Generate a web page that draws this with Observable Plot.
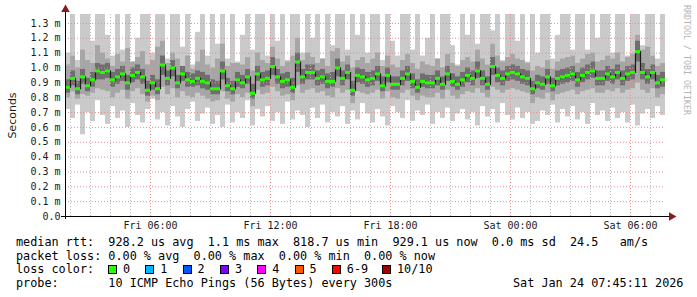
<!DOCTYPE html>
<html><head><meta charset="utf-8">
<script src="https://cdn.jsdelivr.net/npm/d3@7"></script>
<script src="https://cdn.jsdelivr.net/npm/@observablehq/plot@0.6"></script>
<style>
html,body{margin:0;padding:0;background:#fff;}
#wrap{position:relative;width:697px;height:297px;overflow:hidden;font-family:"DejaVu Sans Mono",monospace;background:#fff;}
#chart{position:absolute;left:0;top:0;}
.lg{position:absolute;font-size:11.8px;line-height:14px;white-space:pre;color:#000;}
.sq{position:absolute;width:7px;height:7px;border:1px solid #000;}
#credit{position:absolute;left:682px;top:5px;writing-mode:vertical-rl;font-size:8.3px;color:#b4b4b4;white-space:pre;font-family:"DejaVu Sans Mono",monospace;}
</style></head><body>
<div id="wrap"><div id="chart"></div><div id="credit">RRDTOOL / TOBI OETIKER</div><div id="legend"></div></div>
<script>
// ---- data (15-minute buckets, starting Fri 01:45) ----
const startTime = "2026-01-23T01:45:00Z";
const stepMinutes = 15;

const median = [
0.87,0.93,0.86,0.94,0.88,0.92,0.98,0.97,0.98,0.92,
0.94,0.96,0.90,0.95,0.97,0.94,0.85,0.90,0.86,1.02,
0.93,1.00,0.90,0.96,0.92,0.91,0.93,0.91,0.90,0.86,
0.86,0.98,0.88,0.86,0.92,0.90,0.94,0.83,0.96,0.92,
0.93,1.01,0.94,0.91,0.92,0.87,1.04,0.94,0.97,0.97,
0.93,0.94,0.91,0.91,1.00,0.93,0.97,0.85,0.95,0.94,
0.92,0.93,0.96,0.88,0.95,0.89,0.89,0.93,0.96,0.91,
0.87,0.91,0.90,0.90,0.93,0.89,0.96,0.91,0.89,0.92,
0.95,0.93,0.98,0.93,0.89,1.01,0.95,0.93,0.96,0.97,
0.96,0.94,0.93,0.86,0.90,0.89,0.94,0.88,0.93,0.94,
0.95,0.96,0.92,0.95,0.97,0.98,0.93,0.93,0.96,0.94,
0.97,0.93,0.96,0.97,1.11,0.97,0.94,0.97,0.90,0.92];

const smokeMax = [
1.10,1.36,1.05,1.36,1.36,1.18,1.36,1.36,1.22,1.08,
1.36,1.12,1.36,1.04,1.20,1.36,1.36,1.10,1.36,1.36,
1.06,1.36,1.36,1.14,1.36,1.02,1.24,1.36,1.08,1.36,
1.16,1.36,1.06,1.36,1.04,1.22,1.36,1.12,1.36,1.36,
1.08,1.36,1.18,1.36,1.05,1.36,1.36,1.10,1.36,1.20,
1.36,1.06,1.36,1.15,1.36,1.36,1.12,1.36,1.22,1.36,
1.10,1.36,1.36,1.05,1.36,1.18,1.08,1.36,1.36,1.12,
1.36,1.08,1.20,1.36,1.06,1.36,1.36,1.15,1.02,1.36,
1.22,1.36,1.16,1.36,1.36,1.25,1.36,1.05,1.36,1.36,
1.18,1.36,1.04,1.36,1.10,1.36,1.36,1.06,1.22,1.36,
1.36,1.12,1.36,1.36,1.12,1.36,1.20,1.36,1.36,1.10,
1.36,1.36,1.08,1.36,1.36,1.15,1.36,1.36,1.06,1.36];

const smokeMin = [
0.72,0.66,0.75,0.55,0.70,0.64,0.78,0.68,0.62,0.74,
0.66,0.71,0.60,0.76,0.68,0.63,0.72,0.79,0.65,0.70,
0.61,0.74,0.67,0.60,0.72,0.77,0.64,0.69,0.73,0.62,
0.68,0.60,0.75,0.63,0.70,0.66,0.78,0.61,0.72,0.67,
0.74,0.64,0.70,0.62,0.77,0.65,0.71,0.68,0.60,0.73,
0.66,0.75,0.63,0.70,0.67,0.74,0.62,0.71,0.65,0.76,
0.69,0.63,0.72,0.67,0.61,0.74,0.70,0.66,0.78,0.64,
0.71,0.68,0.75,0.62,0.70,0.66,0.73,0.64,0.69,0.72,
0.65,0.70,0.61,0.74,0.67,0.72,0.63,0.76,0.68,0.65,
0.73,0.66,0.70,0.62,0.64,0.71,0.68,0.75,0.63,0.72,
0.67,0.74,0.65,0.70,0.62,0.76,0.68,0.71,0.64,0.73,
0.66,0.70,0.63,0.75,0.61,0.69,0.72,0.66,0.74,0.68];

const smokeMidHi = [
1.02,1.08,1.00,1.12,1.05,1.03,1.15,1.10,1.06,1.01,
1.09,1.04,1.13,1.04,1.07,1.11,1.02,1.05,1.14,1.18,
1.03,1.10,1.06,1.01,1.08,0.99,1.04,1.12,1.02,1.00,
1.06,1.16,1.01,1.03,1.03,1.02,1.07,0.98,1.10,1.05,
1.03,1.14,1.06,1.01,1.04,1.08,1.20,1.05,1.10,1.07,
1.03,1.06,1.01,1.11,1.13,1.04,1.08,1.00,1.05,1.07,
1.03,1.06,1.10,1.01,1.08,1.02,1.00,1.05,1.09,1.03,
0.99,1.04,1.02,1.01,1.06,1.00,1.09,1.03,1.01,1.05,
1.07,1.04,1.12,1.06,1.02,1.16,1.08,1.04,1.07,1.09,
1.06,1.05,1.03,0.98,1.01,1.00,1.05,0.99,1.04,1.06,
1.07,1.08,1.03,1.06,1.09,1.10,1.04,1.05,1.08,1.06,
1.10,1.04,1.07,1.09,1.22,1.12,1.14,1.08,1.01,1.03];

const smokeMidLo = [
0.80,0.84,0.79,0.82,0.81,0.83,0.86,0.85,0.84,0.80,
0.83,0.85,0.79,0.84,0.86,0.82,0.77,0.81,0.78,0.87,
0.82,0.86,0.80,0.84,0.81,0.80,0.83,0.81,0.79,0.77,
0.78,0.84,0.79,0.77,0.82,0.80,0.83,0.74,0.85,0.82,
0.83,0.87,0.84,0.81,0.82,0.78,0.88,0.83,0.85,0.86,
0.83,0.84,0.81,0.80,0.86,0.83,0.85,0.76,0.84,0.83,
0.82,0.83,0.85,0.79,0.84,0.80,0.79,0.83,0.85,0.81,
0.78,0.81,0.80,0.80,0.83,0.79,0.85,0.81,0.79,0.82,
0.84,0.83,0.86,0.83,0.80,0.87,0.85,0.83,0.85,0.86,
0.85,0.84,0.83,0.76,0.80,0.79,0.83,0.78,0.82,0.83,
0.84,0.85,0.82,0.84,0.85,0.86,0.83,0.83,0.85,0.84,
0.86,0.83,0.85,0.86,0.90,0.85,0.83,0.86,0.80,0.82];

const smokeInHi = [
0.92,0.98,0.91,0.99,0.93,0.97,1.03,1.02,1.03,0.97,
0.99,1.01,0.95,1.00,1.02,0.99,0.91,0.95,0.92,1.08,
0.98,1.05,0.95,1.01,0.97,0.96,0.98,0.97,0.95,0.92,
0.91,1.04,0.93,0.91,0.97,0.95,0.99,0.89,1.01,0.97,
0.98,1.07,0.99,0.96,0.97,0.93,1.10,0.99,1.02,1.02,
0.98,0.99,0.96,0.97,1.06,0.98,1.02,0.91,1.00,0.99,
0.97,0.98,1.01,0.94,1.00,0.94,0.94,0.98,1.01,0.96,
0.92,0.96,0.95,0.95,0.98,0.94,1.01,0.96,0.94,0.97,
1.00,0.98,1.04,0.98,0.94,1.07,1.00,0.98,1.01,1.02,
1.01,0.99,0.98,0.91,0.95,0.94,0.99,0.93,0.98,0.99,
1.00,1.01,0.97,1.00,1.02,1.04,0.98,0.98,1.01,0.99,
1.02,0.98,1.01,1.02,1.18,1.03,0.99,1.02,0.95,0.97];

const smokeInLo = [
0.83,0.88,0.82,0.89,0.84,0.87,0.92,0.92,0.93,0.87,
0.89,0.91,0.85,0.90,0.92,0.89,0.81,0.85,0.82,0.95,
0.88,0.94,0.86,0.91,0.87,0.87,0.88,0.86,0.85,0.82,
0.82,0.92,0.84,0.82,0.87,0.86,0.89,0.79,0.91,0.87,
0.88,0.95,0.89,0.86,0.87,0.83,0.97,0.89,0.92,0.92,
0.88,0.89,0.86,0.87,0.94,0.88,0.92,0.81,0.90,0.89,
0.87,0.88,0.91,0.84,0.90,0.85,0.85,0.88,0.91,0.86,
0.83,0.87,0.86,0.86,0.88,0.85,0.91,0.87,0.85,0.87,
0.90,0.88,0.93,0.88,0.85,0.95,0.90,0.88,0.91,0.92,
0.91,0.89,0.88,0.82,0.86,0.85,0.89,0.84,0.88,0.89,
0.90,0.91,0.87,0.90,0.92,0.93,0.88,0.88,0.91,0.89,
0.92,0.88,0.91,0.92,1.04,0.92,0.89,0.92,0.86,0.87];

const yTicks = [0,0.1,0.2,0.3,0.4,0.5,0.6,0.7,0.8,0.9,1.0,1.1,1.2,1.3];
const yTickLabels = ["0.0","0.1 m","0.2 m","0.3 m","0.4 m","0.5 m","0.6 m","0.7 m","0.8 m","0.9 m","1.0 m","1.1 m","1.2 m","1.3 m"];
const xTicks = ["2026-01-23T06:00:00Z","2026-01-23T12:00:00Z","2026-01-23T18:00:00Z","2026-01-24T00:00:00Z","2026-01-24T06:00:00Z"];
const xTickLabels = ["Fri 06:00","Fri 12:00","Fri 18:00","Sat 00:00","Sat 06:00"];

const lossLabels = ["0","1","2","3","4","5","6-9","10/10"];
const lossColors = ["#26ff00","#00b8ff","#0059ff","#7e00ff","#ff00ff","#ff5500","#ff0000","#a10000"];

const legendLines = [
  "median rtt:  928.2 us avg  1.1 ms max  818.7 us min  929.1 us now  0.0 ms sd  24.5   am/s",
  "packet loss: 0.00 % avg  0.00 % max  0.00 % min  0.00 % now",
  "loss color:",
  "probe:       10 ICMP Echo Pings (56 Bytes) every 300s"
];
const stampText = "Sat Jan 24 07:45:11 2026";

// ---- build table ----
const t0 = new Date(startTime).getTime();
const stepMs = stepMinutes * 60000;
const rows = median.map((m, i) => ({
  t0: new Date(t0 + i * stepMs), t1: new Date(t0 + (i + 1) * stepMs),
  med: m, lo: smokeMin[i], hi: smokeMax[i],
  mlo: smokeMidLo[i], mhi: smokeMidHi[i], ilo: smokeInLo[i], ihi: smokeInHi[i]
}));
const xDomain = [new Date(t0), new Date(t0 + median.length * stepMs)];
const majorDates = xTicks.map(d => new Date(d));
const majorSet = new Set(majorDates.map(d => +d));
const minorDates = d3.utcHour.range(xDomain[0], xDomain[1]).filter(d => !majorSet.has(+d));
const stepPts = rows.map(r => ({t: r.t0, v: r.med})).concat([{t: xDomain[1], v: median[median.length - 1]}]);

const dotted = {strokeOpacity: 1, strokeDasharray: "1,2"};
const plot = Plot.plot({
  width: 697, height: 232,
  marginLeft: 65, marginRight: 32, marginTop: 14, marginBottom: 16,
  style: {fontFamily: "DejaVu Sans Mono", fontSize: "10px", color: "#1a1a1a", background: "transparent", overflow: "visible"},
  x: {type: "utc", domain: xDomain},
  y: {domain: [0, 1.36]},
  marks: [
    Plot.rect(rows, {x1: "t0", x2: "t1", y1: "lo", y2: "hi", fill: "#cacaca", clip: true}),
    Plot.rect(rows, {x1: "t0", x2: "t1", y1: "mlo", y2: "mhi", fill: "#a6a6a6", clip: true}),
    Plot.rect(rows, {x1: "t0", x2: "t1", y1: "ilo", y2: "ihi", fill: "#6e6e6e", clip: true}),
    Plot.gridX(minorDates, {stroke: "#b8b8b8", ...dotted}),
    Plot.gridX(majorDates, {stroke: "#e88f8f", ...dotted}),
    Plot.gridY(yTicks.slice(1), {stroke: "#e88f8f", ...dotted}),
    Plot.line(stepPts, {x: "t", y: "v", curve: "step-after", stroke: "#1c1c1c", strokeWidth: 1.2, clip: true}),
    Plot.ruleY(rows, {x1: "t0", x2: "t1", y: "med", stroke: lossColors[0], strokeWidth: 3}),
    Plot.axisY({ticks: yTicks, tickFormat: d => yTickLabels[yTicks.indexOf(d)], tickSize: 0, tickPadding: 5,
      label: "Seconds", labelAnchor: "center", labelOffset: 57, labelArrow: "none"}),
    Plot.axisX({ticks: majorDates, tickFormat: d => xTickLabels[majorDates.findIndex(m => +m === +d)], tickSize: 0, tickPadding: 5, label: null}),
    Plot.ruleY([0], {stroke: "#000", insetLeft: -4, insetRight: -4}),
    Plot.ruleX([xDomain[0]], {stroke: "#000", insetTop: -6, insetBottom: -3}),
    Plot.dot([{x: xDomain[1], y: 0}], {x: "x", y: "y", symbol: "triangle", rotate: 90, r: 3.2, fill: "#8b1a1a", stroke: "none", dx: 6}),
    Plot.dot([{x: xDomain[0], y: 1.36}], {x: "x", y: "y", symbol: "triangle", r: 3.2, fill: "#8b1a1a", stroke: "none", dy: -5})
  ]
});
document.getElementById("chart").append(plot);
d3.select(plot).selectAll('g[aria-label="y-axis label"] text')
  .style("font-family", "'DejaVu Sans', sans-serif").style("font-size", "11px");

// ---- legend ----
const lg = document.getElementById("legend");
const tops = [235, 248.6, 262.2, 275.8];
legendLines.forEach((s, i) => {
  const d = document.createElement("div");
  d.className = "lg"; d.style.left = "16px"; d.style.top = tops[i] + "px"; d.textContent = s;
  lg.append(d);
});
const st = document.createElement("div");
st.className = "lg"; st.style.left = "513px"; st.style.top = tops[3] + "px"; st.textContent = stampText;
lg.append(st);
const sqX = [108, 145.3, 182.6, 219.9, 257.2, 294.5, 331.8, 382];
lossLabels.forEach((lab, i) => {
  const s = document.createElement("div");
  s.className = "sq"; s.style.left = sqX[i] + "px"; s.style.top = (tops[2] + 3) + "px"; s.style.background = lossColors[i];
  lg.append(s);
  const t = document.createElement("div");
  t.className = "lg"; t.style.left = (sqX[i] + 15) + "px"; t.style.top = tops[2] + "px"; t.textContent = lab;
  lg.append(t);
});
</script>
</body></html>
